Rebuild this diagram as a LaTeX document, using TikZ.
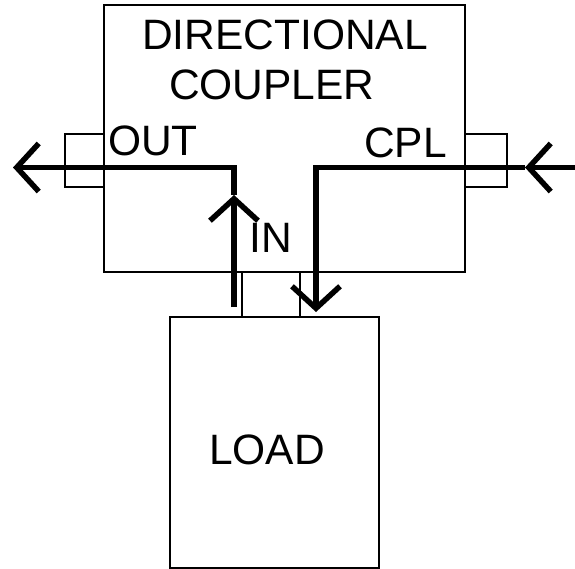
\documentclass[tikz,border=0pt]{standalone}
\usepackage{fontspec}
\setmainfont{Liberation Sans}
\usetikzlibrary{arrows.meta}
\begin{document}
\begin{tikzpicture}[x=1pt,y=-1pt,
  box/.style={draw, line width=1.5pt, inner sep=0pt, outer sep=0pt},
  lbl/.style={font=\fontsize{42.5}{50}\selectfont, inner sep=0pt, anchor=base west},
  sig/.style={line width=5.5pt},
  chev/.style={-{Straight Barb[length=22pt,width=48pt]}}]
\useasboundingbox (0,0) rectangle (575,569);
% boxes
\node[box, minimum width=361pt, minimum height=267pt] (dc) at (284.5,138.5) {};
\node[box, minimum width=39pt, minimum height=53pt] (pout) at (84.5,160.5) {};
\node[box, minimum width=42pt, minimum height=53pt] (pcpl) at (486,160.5) {};
\node[box, minimum width=58pt, minimum height=45pt] (pin) at (271,294.5) {};
\node[box, minimum width=209pt, minimum height=251pt] (load) at (274.5,442.5) {};
% labels
\node[lbl] (t1) at (142,50) {DIRECTIONAL};
\node[lbl] (t2) at (169,100) {COUPLER};
\node[lbl] (tout) at (108,156) {OUT};
\node[lbl] (tcpl) at (364,158) {CPL};
\node[lbl] (tin) at (249,252) {IN};
\node[lbl] (tload) at (209,464) {LOAD};
% signal paths
\coordinate (inbot) at (234,307);
\coordinate (upmid) at (234,195);
\coordinate (outtip) at (13,167.5);
\coordinate (cplend) at (575,167.5);
\coordinate (rmid) at (525,167.5);
\coordinate (downtip) at (316,312);
\draw[sig,chev] (inbot) -- (upmid);
\draw[sig,chev] (upmid) -- (upmid |- outtip) -- (outtip);
\draw[sig,chev] (cplend) -- (rmid);
\draw[sig,chev] (rmid) -- (rmid -| downtip) -- (downtip);
\end{tikzpicture}
\end{document}
